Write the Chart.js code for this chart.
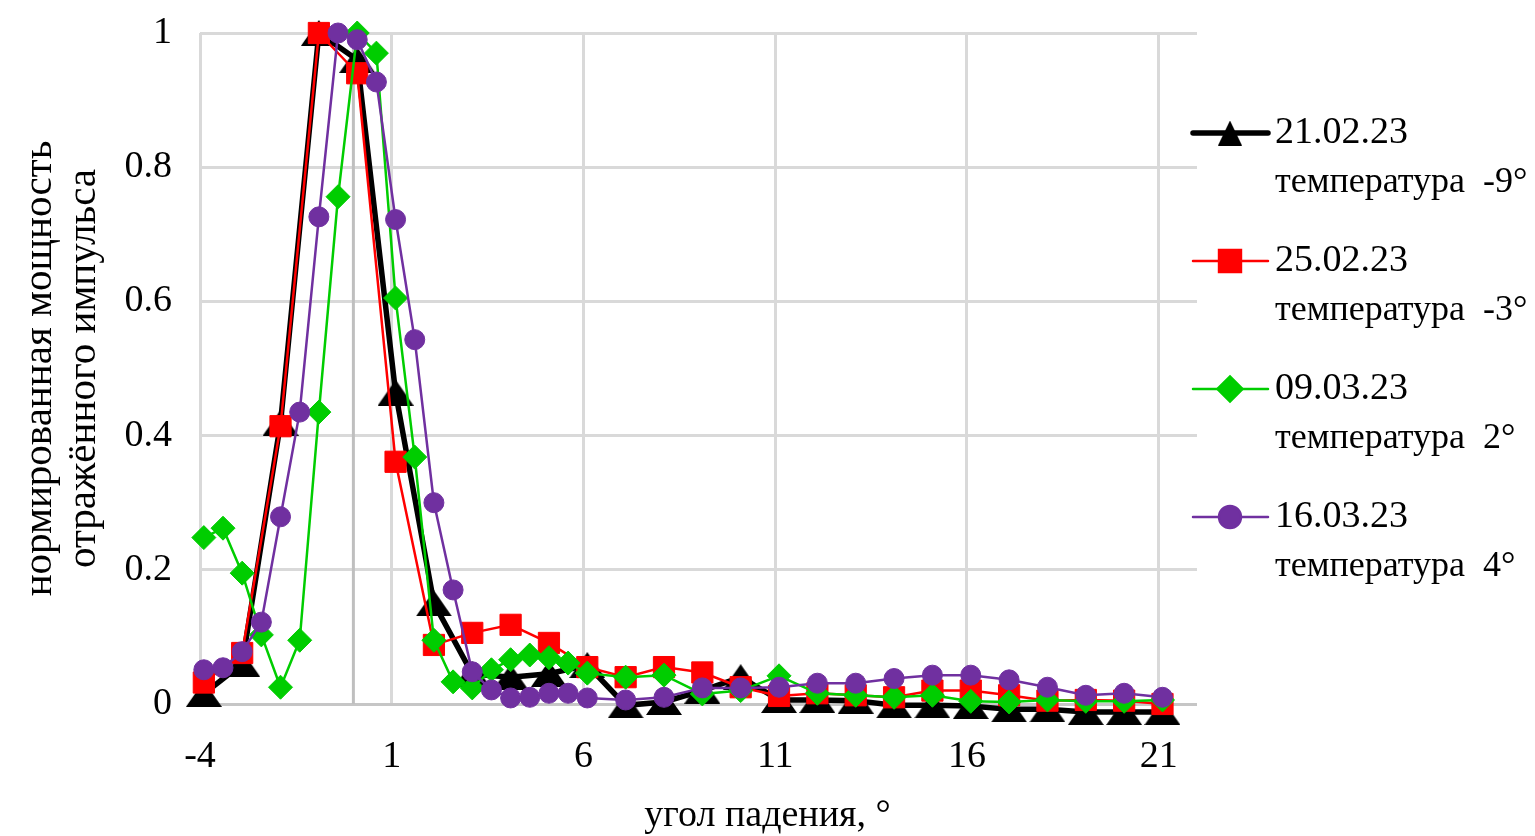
<!DOCTYPE html>
<html>
<head>
<meta charset="utf-8">
<script src="https://cdn.jsdelivr.net/npm/chart.js@4/dist/chart.umd.min.js"></script>
<style>
  html, body { margin: 0; padding: 0; background: #fff; }
  #wrap { width: 1535px; height: 836px; }
</style>
</head>
<body>
<div id="wrap"><canvas id="c" width="1535" height="836"></canvas></div>
<script>
// Incidence angles, degrees
const anglesCoarse = [-3.9, -2.9, -1.9, -0.9, 0.1, 1.1, 2.1, 3.1, 4.1, 5.1, 6.1, 7.1, 8.1,
  9.1, 10.1, 11.1, 12.1, 13.1, 14.1, 15.1, 16.1, 17.1, 18.1, 19.1, 20.1, 21.1];
const anglesFine = [-3.9, -3.4, -2.9, -2.4, -1.9, -1.4, -0.9, -0.4, 0.1, 0.6, 1.1, 1.6, 2.1,
  2.6, 3.1, 3.6, 4.1, 4.6, 5.1, 5.6, 6.1, 7.1, 8.1, 9.1, 10.1, 11.1, 12.1, 13.1, 14.1,
  15.1, 16.1, 17.1, 18.1, 19.1, 20.1, 21.1];

// Normalised reflected pulse power
const power0221 = [0.015, 0.06, 0.419, 1.0, 0.96, 0.464, 0.15, 0.045, 0.04, 0.045, 0.058,
  -0.002, 0.003, 0.02, 0.04, 0.006, 0.006, 0.005, -0.002, -0.002, -0.003, -0.008, -0.008,
  -0.012, -0.012, -0.012];
const power0225 = [0.032, 0.076, 0.414, 1.0, 0.94, 0.361, 0.088, 0.106, 0.118, 0.091, 0.055,
  0.04, 0.055, 0.047, 0.025, 0.012, 0.016, 0.013, 0.01, 0.02, 0.02, 0.013, 0.005, 0.006,
  0.005, 0.0];
const power0309 = [0.248, 0.262, 0.195, 0.103, 0.025, 0.095, 0.435, 0.756, 1.0, 0.97, 0.605,
  0.368, 0.095, 0.033, 0.024, 0.051, 0.066, 0.073, 0.069, 0.061, 0.046, 0.04, 0.043, 0.015,
  0.02, 0.042, 0.016, 0.013, 0.01, 0.013, 0.004, 0.003, 0.006, 0.004, 0.004, 0.006];
const power0316 = [0.051, 0.054, 0.078, 0.122, 0.279, 0.435, 0.726, 1.0, 0.99, 0.927, 0.722,
  0.543, 0.30, 0.17, 0.048, 0.021, 0.009, 0.01, 0.016, 0.016, 0.009, 0.006, 0.01, 0.024,
  0.024, 0.025, 0.031, 0.031, 0.038, 0.043, 0.043, 0.036, 0.025, 0.013, 0.016, 0.01];

const xTicks = [-4, 1, 6, 11, 16, 21];
const yTicks = [0, 0.2, 0.4, 0.6, 0.8, 1];

const seriesDates = ['21.02.23', '25.02.23', '09.03.23', '16.03.23'];
const seriesTemps = ['температура  -9°', 'температура  -3°', 'температура  2°', 'температура  4°'];

const yTitle = ['нормированная мощность', 'отражённого импульса'];
const xTitle = 'угол падения, °';

const SERIF = '"Liberation Serif", "Times New Roman", serif';

function toPoints(xs, ys) {
  return xs.map((x, i) => ({ x: x, y: ys[i] }));
}

// Wide flat triangle marker
function triangleImage(w, h, color) {
  const cv = document.createElement('canvas');
  cv.width = w; cv.height = h;
  const g = cv.getContext('2d');
  g.fillStyle = color;
  g.beginPath();
  g.moveTo(0, h);
  g.lineTo(w / 2, 0);
  g.lineTo(w, h);
  g.closePath();
  g.fill();
  return cv;
}
const triPlot = triangleImage(36, 26, '#000');
const triLegend = triangleImage(24, 25, '#000');

// Vertical axis line through x = 0
const zeroLine = {
  id: 'zeroLine',
  beforeDatasetsDraw(chart) {
    const { ctx, chartArea, scales } = chart;
    const px = scales.x.getPixelForValue(0);
    ctx.save();
    ctx.strokeStyle = '#bfbfbf';
    ctx.lineWidth = 3;
    ctx.beginPath();
    ctx.moveTo(px, chartArea.top);
    ctx.lineTo(px, chartArea.bottom);
    ctx.stroke();
    ctx.restore();
  }
};

// Horizontal axis caption, centred on the canvas
const bottomCaption = {
  id: 'bottomCaption',
  afterDraw(chart) {
    const { ctx } = chart;
    ctx.save();
    ctx.fillStyle = '#000';
    ctx.font = '38px ' + SERIF;
    ctx.textAlign = 'center';
    ctx.textBaseline = 'middle';
    ctx.fillText(xTitle, chart.width / 2, 816);
    ctx.restore();
  }
};

// Two-line legend entries on the right
const sideLegend = {
  id: 'sideLegend',
  afterDraw(chart) {
    const { ctx } = chart;
    const x0 = 1193, x1 = 1268, xm = 1230, xt = 1275;
    chart.data.datasets.forEach((ds, i) => {
      const y = 133 + i * 128;
      ctx.save();
      ctx.strokeStyle = ds.borderColor;
      ctx.lineWidth = ds.borderWidth;
      ctx.lineCap = 'round';
      ctx.beginPath();
      ctx.moveTo(x0, y);
      ctx.lineTo(x1, y);
      ctx.stroke();
      ctx.fillStyle = ds.pointBackgroundColor;
      ctx.strokeStyle = ds.pointBorderColor;
      const style = ds.legendStyle || ds.pointStyle;
      Chart.helpers.drawPoint(ctx, {
        pointStyle: style,
        radius: ds.legendRadius,
        borderWidth: 1,
        rotation: 0
      }, xm, y);
      ctx.fillStyle = '#000';
      ctx.textBaseline = 'middle';
      ctx.textAlign = 'left';
      ctx.font = '38px ' + SERIF;
      ctx.fillText(seriesDates[i], xt, y);
      ctx.font = '36px ' + SERIF;
      ctx.fillText(seriesTemps[i], xt, y + 50);
      ctx.restore();
    });
  }
};

new Chart(document.getElementById('c'), {
  type: 'line',
  data: {
    datasets: [
      {
        label: seriesDates[0],
        data: toPoints(anglesCoarse, power0221),
        borderColor: '#000000',
        borderWidth: 5.5,
        pointStyle: triPlot,
        legendStyle: triLegend,
        legendRadius: 12,
        pointBackgroundColor: '#000000',
        pointBorderColor: '#000000',
        order: 4
      },
      {
        label: seriesDates[1],
        data: toPoints(anglesCoarse, power0225),
        borderColor: '#ff0000',
        borderWidth: 2.5,
        pointStyle: 'rect',
        pointRadius: 15,
        legendRadius: 15.5,
        pointBackgroundColor: '#ff0000',
        pointBorderColor: '#ff0000',
        pointBorderWidth: 1,
        order: 3
      },
      {
        label: seriesDates[2],
        data: toPoints(anglesFine, power0309),
        borderColor: '#00cd00',
        borderWidth: 2.5,
        pointStyle: 'rectRot',
        pointRadius: 12,
        legendRadius: 12.5,
        pointBackgroundColor: '#00cd00',
        pointBorderColor: '#00cd00',
        pointBorderWidth: 1,
        order: 2
      },
      {
        label: seriesDates[3],
        data: toPoints(anglesFine, power0316),
        borderColor: '#7030a0',
        borderWidth: 2.5,
        pointStyle: 'circle',
        pointRadius: 10,
        legendRadius: 11,
        pointBackgroundColor: '#7030a0',
        pointBorderColor: '#7030a0',
        pointBorderWidth: 1,
        order: 1
      }
    ]
  },
  options: {
    responsive: false,
    animation: false,
    devicePixelRatio: 1,
    layout: { padding: { left: 0, right: 338, top: 33, bottom: 0 } },
    elements: {
      line: { tension: 0 },
      point: { radius: 14, hoverRadius: 14 }
    },
    datasets: { line: { clip: false } },
    plugins: {
      legend: { display: false },
      tooltip: { enabled: false },
      title: { display: false }
    },
    scales: {
      x: {
        type: 'linear',
        min: -4,
        max: 22,
        afterBuildTicks(scale) { scale.ticks = xTicks.map(v => ({ value: v })); },
        afterFit(scale) { scale.height = 132; },
        ticks: {
          color: '#000',
          padding: 30,
          font: { family: SERIF, size: 38 },
          callback: v => String(v)
        },
        grid: { color: '#d9d9d9', lineWidth: 3, drawTicks: false },
        border: { display: false }
      },
      y: {
        min: 0,
        max: 1,
        afterBuildTicks(scale) { scale.ticks = yTicks.map(v => ({ value: v })); },
        afterFit(scale) {
          scale.width = 200;
          scale.paddingTop = 0;
          scale.paddingBottom = 0;
        },
        ticks: {
          color: '#000',
          padding: 28,
          font: { family: SERIF, size: 38 },
          callback: v => String(v)
        },
        grid: {
          color: ctx => (ctx.tick && ctx.tick.value === 0 ? '#c6c6c6' : '#d9d9d9'),
          lineWidth: 3,
          drawTicks: false
        },
        border: { display: false },
        title: {
          display: true,
          text: yTitle,
          color: '#000',
          font: { family: SERIF, size: 41, lineHeight: 1.08 },
          padding: { top: 18, bottom: 0 }
        }
      }
    }
  },
  plugins: [zeroLine, bottomCaption, sideLegend]
});
</script>
</body>
</html>
